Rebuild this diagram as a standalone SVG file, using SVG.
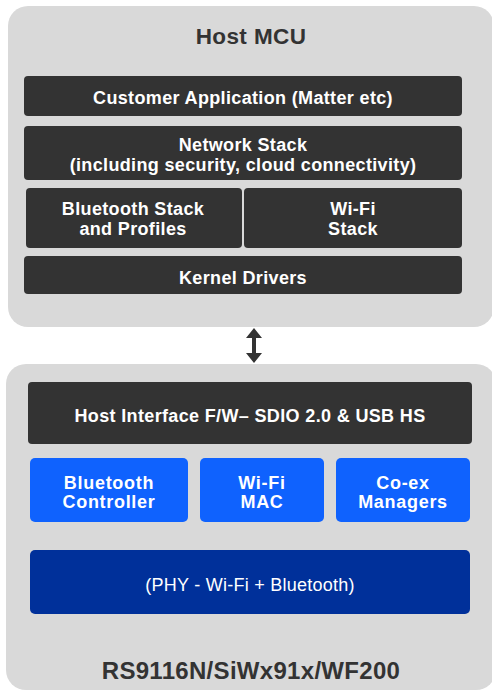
<svg xmlns="http://www.w3.org/2000/svg" width="492" height="690" viewBox="0 0 492 690">
<defs>
<style>
.panel{fill:#d9d9d9}
.bar{fill:#333333}
.blue{fill:#0f62fe}
.navy{fill:#00309a}
text{font-family:"Liberation Sans",Arial,sans-serif;text-anchor:middle}
.t{fill:#ffffff;font-weight:bold;font-size:18px;letter-spacing:0.35px}
.bt{letter-spacing:0.7px}
.title{fill:#333333;font-weight:bold}
.phy{fill:#ffffff;font-size:18px;letter-spacing:0.25px}
.arrow{fill:#333333}
</style>
</defs>
<g id="host-mcu">
<rect class="panel" x="8" y="6" width="486" height="321" rx="20"/>
<text class="title" x="251" y="44" font-size="22.5" letter-spacing="0.4">Host MCU</text>
</g>
<g id="customer-app">
<rect class="bar" x="24" y="76" width="438" height="40" rx="4"/>
<text class="t" x="243" y="104">Customer Application (Matter  etc)</text>
</g>
<g id="network-stack">
<rect class="bar" x="24" y="126" width="438" height="54" rx="4"/>
<text class="t" x="243" y="151">Network Stack</text>
<text class="t" x="243" y="171">(including security, cloud connectivity)</text>
</g>
<g id="bt-stack">
<rect class="bar" x="26" y="188" width="216" height="60" rx="4"/>
<text class="t" x="133" y="215">Bluetooth Stack</text>
<text class="t" x="133" y="235">and Profiles</text>
</g>
<g id="wifi-stack">
<rect class="bar" x="244" y="188" width="218" height="60" rx="4"/>
<text class="t" x="353" y="215">Wi-Fi</text>
<text class="t" x="353" y="235">Stack</text>
</g>
<g id="kernel-drivers">
<rect class="bar" x="24" y="256" width="438" height="38" rx="4"/>
<text class="t" x="243" y="284">Kernel Drivers</text>
</g>
<g id="rs9116">
<rect class="panel" x="6" y="364" width="490" height="326" rx="20"/>
<text class="title" x="251" y="679" font-size="24" letter-spacing="0.3">RS9116N/SiWx91x/WF200</text>
</g>
<g id="host-interface">
<rect class="bar" x="28" y="382" width="444" height="62" rx="4"/>
<text class="t" x="250" y="422">Host Interface F/W– SDIO 2.0 &amp; USB HS</text>
</g>
<g id="bt-controller">
<rect class="blue" x="30" y="458" width="158" height="64" rx="5"/>
<text class="t bt" x="109" y="489">Bluetooth</text>
<text class="t bt" x="109" y="508">Controller</text>
</g>
<g id="wifi-mac">
<rect class="blue" x="200" y="458" width="124" height="64" rx="5"/>
<text class="t bt" x="262" y="489">Wi-Fi</text>
<text class="t bt" x="262" y="508">MAC</text>
</g>
<g id="coex">
<rect class="blue" x="336" y="458" width="134" height="64" rx="5"/>
<text class="t bt" x="403" y="489">Co-ex</text>
<text class="t bt" x="403" y="508">Managers</text>
</g>
<g id="phy">
<rect class="navy" x="30" y="550" width="440" height="64" rx="5"/>
<text class="phy" x="250" y="591">(PHY - Wi-Fi + Bluetooth)</text>
</g>
<g id="connectors">
<path class="arrow" d="M254,328 L262,338 L256,338 L256,353 L262,353 L254,363 L246,353 L252,353 L252,338 L246,338 Z"/>
</g>
</svg>
